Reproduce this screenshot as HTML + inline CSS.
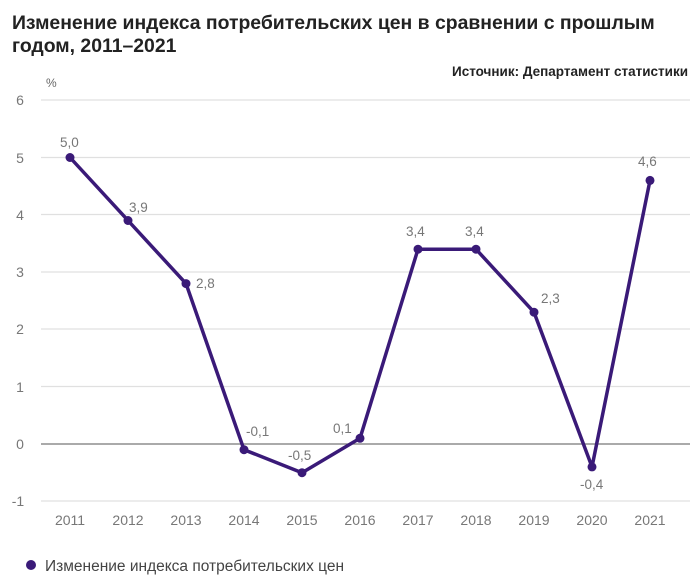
<!DOCTYPE html>
<html><head><meta charset="utf-8"><style>
body{margin:0;background:#fff;width:700px;height:583px;overflow:hidden;font-family:"Liberation Sans",sans-serif;}
</style></head><body>
<svg width="700" height="583" xmlns="http://www.w3.org/2000/svg" font-family="Liberation Sans, sans-serif">
<text x="12" y="29" font-size="19.4" font-weight="bold" fill="#222">Изменение индекса потребительских цен в сравнении с прошлым</text>
<text x="12" y="52" font-size="19.4" font-weight="bold" fill="#222">годом, 2011–2021</text>
<text x="688" y="76" font-size="13.5" font-weight="bold" fill="#222" text-anchor="end">Источник: Департамент статистики</text>
<text x="46" y="87" font-size="12" fill="#666">%</text>
<g stroke="#e0e0e0" stroke-width="1.2">
<line x1="41" x2="690" y1="100" y2="100"/><line x1="41" x2="690" y1="157.5" y2="157.5"/>
<line x1="41" x2="690" y1="214.5" y2="214.5"/><line x1="41" x2="690" y1="272" y2="272"/>
<line x1="41" x2="690" y1="329" y2="329"/><line x1="41" x2="690" y1="386.5" y2="386.5"/>
<line x1="41" x2="690" y1="501" y2="501"/></g>
<line x1="41" x2="690" y1="444" y2="444" stroke="#777" stroke-width="1.2"/>
<g font-size="14" fill="#777" text-anchor="middle">
<text x="20" y="105">6</text><text x="20" y="163">5</text><text x="20" y="220">4</text><text x="20" y="277">3</text>
<text x="20" y="334">2</text><text x="20" y="392">1</text><text x="20" y="449">0</text><text x="18" y="506">-1</text>
<text x="70" y="525">2011</text><text x="128" y="525">2012</text><text x="186" y="525">2013</text><text x="244" y="525">2014</text>
<text x="302" y="525">2015</text><text x="360" y="525">2016</text><text x="418" y="525">2017</text><text x="476" y="525">2018</text>
<text x="534" y="525">2019</text><text x="592" y="525">2020</text><text x="650" y="525">2021</text>
</g>
<polyline fill="none" stroke="#3a1a78" stroke-width="3.5" stroke-linejoin="round" points="70,157.5 128,220.5 186,283.6 244,449.7 302,472.7 360,438.3 418,249.2 476,249.2 534,312.2 592,466.9 650,180.4"/>
<g fill="#3a1a78">
<circle cx="70" cy="157.5" r="4.5"/><circle cx="128" cy="220.5" r="4.5"/><circle cx="186" cy="283.6" r="4.5"/>
<circle cx="244" cy="449.7" r="4.5"/><circle cx="302" cy="472.7" r="4.5"/><circle cx="360" cy="438.3" r="4.5"/>
<circle cx="418" cy="249.2" r="4.5"/><circle cx="476" cy="249.2" r="4.5"/><circle cx="534" cy="312.2" r="4.5"/>
<circle cx="592" cy="466.9" r="4.5"/><circle cx="650" cy="180.4" r="4.5"/></g>
<g font-size="13.5" fill="#777">
<text x="60" y="147">5,0</text><text x="129" y="212">3,9</text><text x="196" y="288">2,8</text>
<text x="246" y="436">-0,1</text><text x="288" y="460">-0,5</text><text x="333" y="433">0,1</text>
<text x="406" y="236">3,4</text><text x="465" y="236">3,4</text><text x="541" y="303">2,3</text>
<text x="580" y="489">-0,4</text><text x="638" y="166">4,6</text></g>
<circle cx="31" cy="565" r="5" fill="#3a1a78"/>
<text x="45" y="571" font-size="15.5" fill="#444">Изменение индекса потребительских цен</text>
</svg>
</body></html>
